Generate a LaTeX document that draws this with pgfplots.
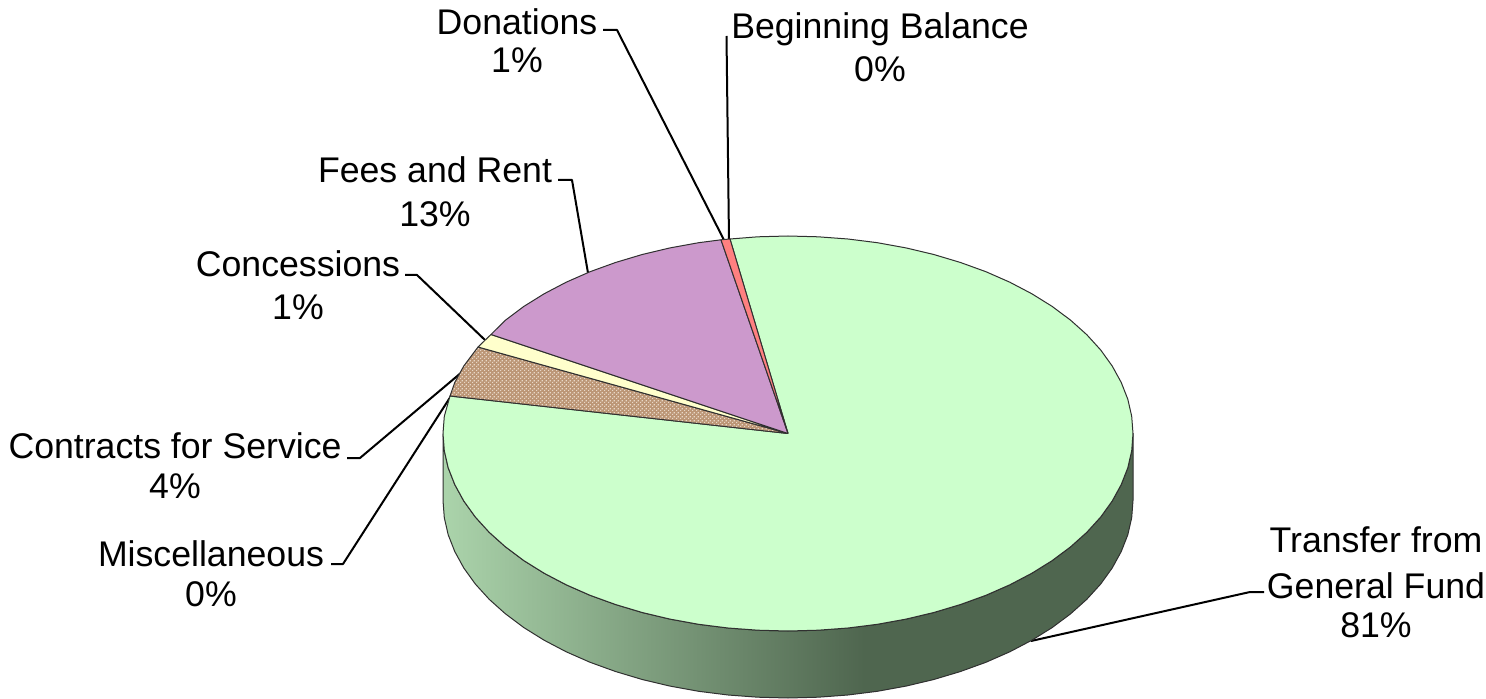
\documentclass[border=0pt]{standalone}
\usepackage{pgfplots}
\pgfplotsset{compat=1.18}
\usepackage{fontspec}
\setmainfont{Liberation Sans}
\usetikzlibrary{patterns}
\definecolor{pgreen}{HTML}{CCFFCC}
\definecolor{ppink}{HTML}{CC99CC}
\definecolor{pred}{HTML}{FF8080}
\definecolor{pyellow}{HTML}{FFFFCC}
\definecolor{pbrown}{HTML}{BC9676}
\definecolor{pdots}{HTML}{E8D8C8}
\definecolor{edgec}{HTML}{303030}
\pgfdeclarepatternformonly{checkdots}{\pgfpointorigin}{\pgfqpoint{4bp}{4bp}}{\pgfqpoint{4bp}{4bp}}{
  \pgfpathrectangle{\pgfqpoint{0bp}{0bp}}{\pgfqpoint{1.5bp}{1.5bp}}
  \pgfpathrectangle{\pgfqpoint{2bp}{2bp}}{\pgfqpoint{1.5bp}{1.5bp}}
  \pgfusepath{fill}}
\pgfdeclarehorizontalshading{sideshade}{100bp}{
 rgb(0bp)=(0.663,0.827,0.663);
 rgb(25bp)=(0.67,0.83,0.67);
 rgb(55.5bp)=(0.31,0.40,0.31);
 rgb(100bp)=(0.31,0.40,0.31)}
\begin{document}
\begin{tikzpicture}
\begin{axis}[
  scale only axis, width=1486bp, height=699bp,
  xmin=0, xmax=1486, ymin=0, ymax=699, y dir=reverse,
  hide axis, clip=false,
  every axis plot/.append style={line join=round},
]
\path[use as bounding box] (axis cs:0,0) rectangle (axis cs:1486,699);
% leader lines
\addplot[black, line width=2bp] coordinates {(603,30) (617,30) (724,240)};
\addplot[black, line width=2bp] coordinates {(726.5,36) (729,240)};
\addplot[black, line width=2bp] coordinates {(558,180) (572,180) (588,273)};
\addplot[black, line width=2bp] coordinates {(405,275) (417,275) (485,340)};
\addplot[black, line width=2bp] coordinates {(347,458) (360,458) (462,372)};
\addplot[black, line width=2bp] coordinates {(331,564) (343,564) (451,396)};
\addplot[black, line width=2bp] coordinates {(1264,592) (1250,592) (1031,641)};
% side of the pie
\addplot[draw=edgec, line width=1bp, shading=sideshade] coordinates {
(443,433.5) (444.3,450.7) (448.2,467.8) (454.8,484.6) (463.8,501) (475.3,517) (489.2,532.3) (505.4,546.8) (523.7,560.5) (544.1,573.2) (566.2,584.8) (590.1,595.3) (615.5,604.5) (642.2,612.5) (670,619.1) (698.7,624.3) (728.1,628) (757.9,630.2) (788,631)
(818.1,630.2) (847.9,628) (877.3,624.3) (906,619.1) (933.8,612.5) (960.5,604.5) (985.9,595.3) (1009.8,584.8) (1031.9,573.2) (1052.3,560.5) (1070.6,546.8) (1086.8,532.3) (1100.7,517) (1112.2,501) (1121.2,484.6) (1127.8,467.8) (1131.7,450.7) (1133,433.5)
(1133,500.5) (1131.7,517.7) (1127.8,534.8) (1121.2,551.6) (1112.2,568) (1100.7,584) (1086.8,599.3) (1070.6,613.8) (1052.3,627.5) (1031.9,640.2) (1009.8,651.8) (985.9,662.3) (960.5,671.5) (933.8,679.5) (906,686.1) (877.3,691.3) (847.9,695) (818.1,697.2) (788,698)
(757.9,697.2) (728.1,695) (698.7,691.3) (670,686.1) (642.2,679.5) (615.5,671.5) (590.1,662.3) (566.2,651.8) (544.1,640.2) (523.7,627.5) (505.4,613.8) (489.2,599.3) (475.3,584) (463.8,568) (454.8,551.6) (448.2,534.8) (444.3,517.7) (443,500.5) (443,433.5)
};
% Transfer from General Fund
\addplot[draw=edgec, line width=1bp, fill=pgreen] coordinates {
(788,433.5) (730,239) (757.9,236.8) (788,236) (818.1,236.8) (847.9,239) (877.3,242.7) (906,247.9) (933.8,254.5) (960.5,262.5) (985.9,271.7) (1009.8,282.2) (1031.9,293.8) (1052.3,306.5) (1070.6,320.2) (1086.8,334.7) (1100.7,350) (1112.2,366) (1121.2,382.4) (1127.8,399.2) (1131.7,416.3) (1133,433.5)
(1131.7,450.7) (1127.8,467.8) (1121.2,484.6) (1112.2,501) (1100.7,517) (1086.8,532.3) (1070.6,546.8) (1052.3,560.5) (1031.9,573.2) (1009.8,584.8) (985.9,595.3) (960.5,604.5) (933.8,612.5) (906,619.1) (877.3,624.3) (847.9,628) (818.1,630.2) (788,631)
(757.9,630.2) (728.1,628) (698.7,624.3) (670,619.1) (642.2,612.5) (615.5,604.5) (590.1,595.3) (566.2,584.8) (544.1,573.2) (523.7,560.5) (505.4,546.8) (489.2,532.3) (475.3,517) (463.8,501) (454.8,484.6) (448.2,467.8) (444.3,450.7) (443,433.5) (444.3,416.3) (450,396) (788,433.5)
};
% Contracts for Service (hatched)
\addplot[draw=none, fill=pbrown] coordinates {(788,433.5) (450,396) (454.8,382.4) (463.8,366) (478,347) (788,433.5)};
\addplot[draw=edgec, line width=1bp, pattern=checkdots, pattern color=pdots] coordinates {(788,433.5) (450,396) (454.8,382.4) (463.8,366) (478,347) (788,433.5)};
% Concessions
\addplot[draw=edgec, line width=1bp, fill=pyellow] coordinates {(788,433.5) (478,347) (491,334.5) (788,433.5)};
% Fees and Rent
\addplot[draw=edgec, line width=1bp, fill=ppink] coordinates {(788,433.5) (491,334.5) (505.4,320.2) (523.7,306.5) (544.1,293.8) (566.2,282.2) (590.1,271.7) (615.5,262.5) (642.2,254.5) (670,247.9) (698.7,242.7) (721,239.8) (788,433.5)};
% Donations
\addplot[draw=edgec, line width=1bp, fill=pred] coordinates {(788,433.5) (721,239.8) (730,239) (788,433.5)};
% labels
\tikzset{lab/.style={anchor=base, inner sep=0pt, font=\fontsize{35.8}{41}\selectfont, text=black}}
\node[lab] at (axis cs:517,35) {Donations};
\node[lab] at (axis cs:517,73) {1\%};
\node[lab] at (axis cs:880,39) {Beginning Balance};
\node[lab] at (axis cs:880,82) {0\%};
\node[lab] at (axis cs:435,183) {Fees and Rent};
\node[lab] at (axis cs:435,227) {13\%};
\node[lab] at (axis cs:298,276) {Concessions};
\node[lab] at (axis cs:298,320) {1\%};
\node[lab] at (axis cs:175,458) {Contracts for Service};
\node[lab] at (axis cs:175,498) {4\%};
\node[lab] at (axis cs:211,566) {Miscellaneous};
\node[lab] at (axis cs:211,606) {0\%};
\node[lab] at (axis cs:1376,552) {Transfer from};
\node[lab] at (axis cs:1376,598) {General Fund};
\node[lab] at (axis cs:1376,637) {81\%};
\end{axis}
\end{tikzpicture}
\end{document}
